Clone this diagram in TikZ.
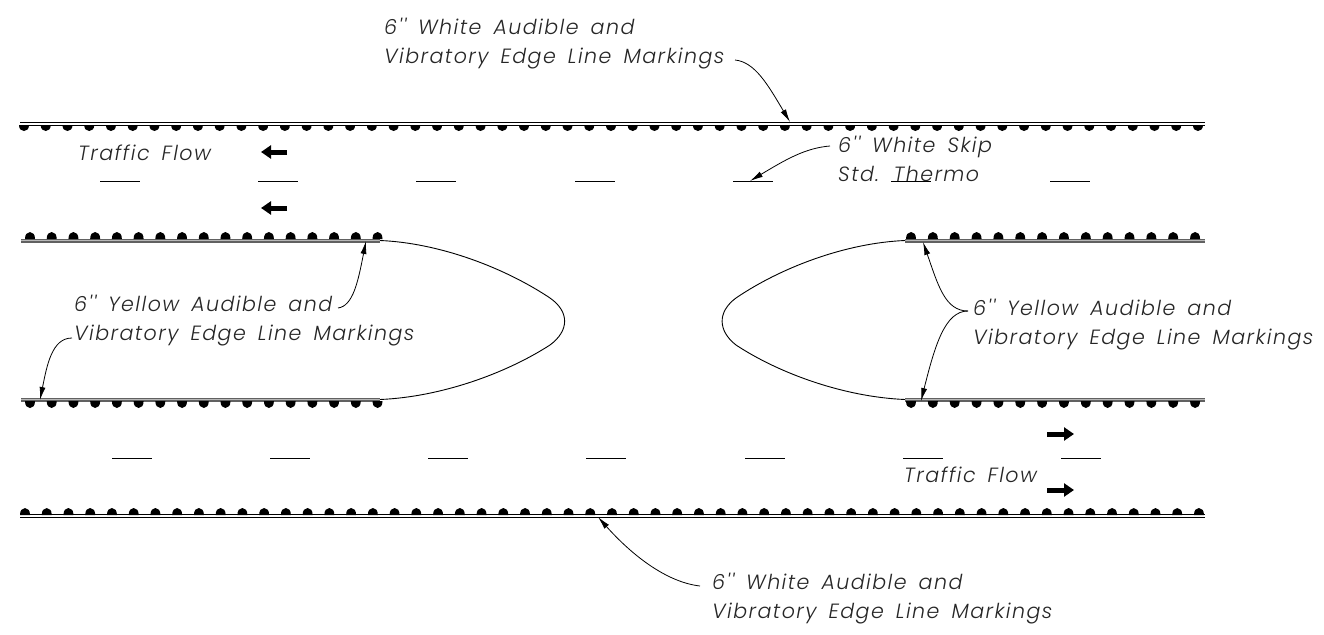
\documentclass[tikz,border=0pt]{standalone}
\usepackage{fontspec}
\usetikzlibrary{arrows.meta}
\newfontfamily\cadfont[LetterSpace=7,WordSpace=1.6]{Poppins Light Italic}
\newcommand{\dome}[3]{\fill (#1-5,#2) .. controls (#1-5,#2+0.65*#3) and (#1-2.9,#2+#3) .. (#1,#2+#3) .. controls (#1+2.9,#2+#3) and (#1+5,#2+0.65*#3) .. (#1+5,#2) -- cycle;}
\tikzset{
  lbl/.style={font=\cadfont\fontsize{20.6}{29}\selectfont,anchor=west,align=left,inner sep=0pt,text=black!85},
  leader/.style={line width=0.8pt,-{Latex[length=13pt,width=6pt]}},
  flow/.style={line width=5pt,-{Triangle[length=10pt,width=13pt]}},
  dashmark/.style={line width=0.9pt},
  nose/.style={line width=0.9pt},
  whiteedge/.style={line width=1pt,black},
  yellowedge/.style={line width=4pt,black!62},
  yellowcore/.style={line width=1.2pt,black!28},
}
\begin{document}
\begin{tikzpicture}[x=1pt,y=-1pt]
\useasboundingbox[fill=white] (0,0) rectangle (1324,634);
% white edge lines
\draw[whiteedge] (20,122.6) -- (1205,122.6);
\draw[whiteedge] (20,125.2) -- (1205,125.2);
\draw[whiteedge] (20,514.6) -- (1205,514.6);
\draw[whiteedge] (20,517.2) -- (1205,517.2);
\foreach \k in {0,...,54}{\pgfmathsetmacro{\xx}{24+21.74*\k}\dome{\xx}{125}{6}}
\foreach \k in {0,...,54}{\pgfmathsetmacro{\xx}{25+21.74*\k}\dome{\xx}{515}{-7}}
% yellow edge lines
\draw[yellowedge] (21,240.5) -- (380,240.5);
\draw[yellowcore] (21,240.5) -- (380,240.5);
\draw[yellowedge] (21,399.5) -- (380,399.5);
\draw[yellowcore] (21,399.5) -- (380,399.5);
\draw[yellowedge] (905,240.5) -- (1205,240.5);
\draw[yellowcore] (905,240.5) -- (1205,240.5);
\draw[yellowedge] (905,399.5) -- (1205,399.5);
\draw[yellowcore] (905,399.5) -- (1205,399.5);
\foreach \k in {0,...,16}{\pgfmathsetmacro{\xx}{30+21.72*\k}\dome{\xx}{239}{-7}}
\foreach \k in {0,...,16}{\pgfmathsetmacro{\xx}{30+21.72*\k}\dome{\xx}{401}{7}}
\foreach \k in {0,...,13}{\pgfmathsetmacro{\xx}{911+21.85*\k}\dome{\xx}{239}{-7}}
\foreach \k in {0,...,13}{\pgfmathsetmacro{\xx}{911+21.85*\k}\dome{\xx}{401}{7}}
% gore noses
\draw[nose] (380,240.5) .. controls (440,243) and (505,268) .. (550,298) .. controls (570,312) and (569,331) .. (550,345) .. controls (505,374) and (440,397) .. (380,399.5);
\draw[nose] (905,240.5) .. controls (845,243) and (780,268) .. (736,298) .. controls (717,312) and (718,331) .. (736,345) .. controls (780,374) and (845,397) .. (905,399.5);
% skip lines
\foreach \xa in {100,258,416,575,733,891,1050}{\draw[dashmark] (\xa,181) -- (\xa+39.5,181);}
\foreach \xa in {112,270,428,586,745,903,1061}{\draw[dashmark] (\xa,458) -- (\xa+39.5,458);}
% flow arrows
\coordinate (fa1s) at (287,152); \coordinate (fa1e) at (261,152);
\coordinate (fa2s) at (287,208); \coordinate (fa2e) at (261,208);
\coordinate (fa3s) at (1047,434); \coordinate (fa3e) at (1074,434);
\coordinate (fa4s) at (1047,490); \coordinate (fa4e) at (1074,490);
\draw[flow] (fa1s) -- (fa1e);
\draw[flow] (fa2s) -- (fa2e);
\draw[flow] (fa3s) -- (fa3e);
\draw[flow] (fa4s) -- (fa4e);
% labels
\node[lbl] (wtop) at (384,44) {6'' White Audible and\\Vibratory Edge Line Markings};
\node[lbl] (skip) at (838,159) {6'' White Skip\\Std. Thermo};
\node[lbl] (tfl) at (78,153) {Traffic Flow};
\node[lbl] (yl) at (74,321) {6'' Yellow Audible and\\Vibratory Edge Line Markings};
\node[lbl] (yr) at (973,325) {6'' Yellow Audible and\\Vibratory Edge Line Markings};
\node[lbl] (tfr) at (904,475) {Traffic Flow};
\node[lbl] (wbot) at (712,599) {6'' White Audible and\\Vibratory Edge Line Markings};
% leaders
\coordinate (wtopS) at (735,60); \coordinate (wtopT) at (790,122);
\coordinate (skipS) at (830,146); \coordinate (skipT) at (750,181);
\coordinate (ylaS) at (338,308); \coordinate (ylaT) at (366,241);
\coordinate (ylbS) at (72,338); \coordinate (ylbT) at (40,400);
\coordinate (yrS) at (968,311); \coordinate (yraT) at (923,242); \coordinate (yrbT) at (921,401);
\coordinate (wbotS) at (700,586); \coordinate (wbotT) at (598,517);
\draw[leader] (wtopS) .. controls (755,62) and (768,85) .. (wtopT);
\draw[leader] (skipS) .. controls (805,148) and (785,160) .. (skipT);
\draw[leader] (ylaS) .. controls (353,306) and (358,282) .. (ylaT);
\draw[leader] (ylbS) .. controls (52,338) and (47,365) .. (ylbT);
\draw[leader] (yrS) .. controls (945,311) and (938,285) .. (yraT);
\draw[leader] (yrS) .. controls (945,311) and (935,345) .. (yrbT);
\draw[leader] (wbotS) .. controls (665,582) and (630,553) .. (wbotT);
\end{tikzpicture}
\end{document}
